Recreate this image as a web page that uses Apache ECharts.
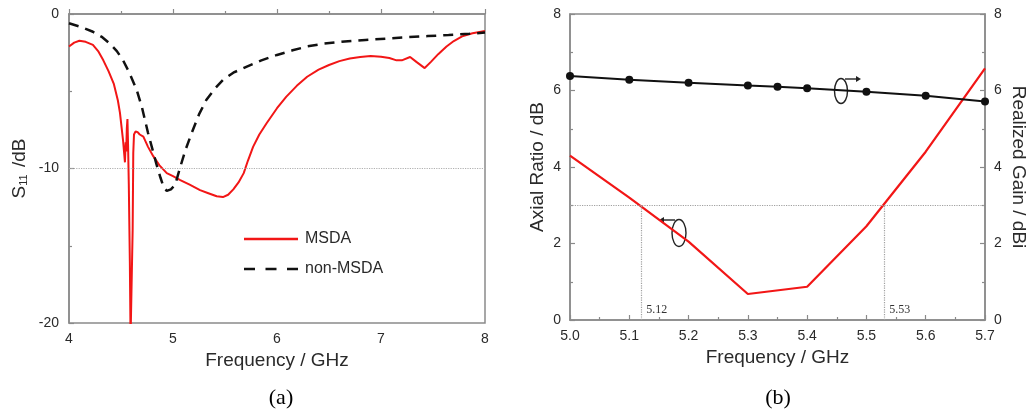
<!DOCTYPE html>
<html><head><meta charset="utf-8">
<script src="https://cdn.jsdelivr.net/npm/echarts@6/dist/echarts.min.js"></script>
<style>html,body{margin:0;padding:0;background:#fff}#c{width:1030px;height:415px}</style>
</head><body><div id="c"></div>
<script>
// ---- Panel (a): S11 ----
const msdaFreq = [4.00,4.05,4.10,4.16,4.23,4.28,4.33,4.38,4.43,4.47,4.49,4.52,4.538,4.545,4.55,4.556,4.562,4.568,4.575,4.585,4.592,4.605,4.612,4.618,4.625,4.64,4.66,4.68,4.715,4.76,4.81,4.87,4.94,5.00,5.07,5.16,5.26,5.34,5.42,5.48,5.53,5.58,5.63,5.68,5.72,5.77,5.83,5.90,6.00,6.09,6.19,6.29,6.40,6.50,6.60,6.70,6.80,6.90,7.00,7.08,7.15,7.20,7.28,7.34,7.42,7.48,7.55,7.63,7.70,7.78,7.88,8.00];
const msdaS11 = [-2.1,-1.85,-1.73,-1.8,-2.0,-2.4,-3.0,-3.7,-4.5,-5.6,-6.4,-8.2,-9.6,-8.3,-8.9,-7.4,-6.8,-8.5,-11,-16,-21,-21,-14,-9,-7.8,-7.6,-7.65,-7.8,-7.94,-8.6,-9.2,-9.8,-10.3,-10.5,-10.75,-11.05,-11.4,-11.6,-11.8,-11.85,-11.7,-11.35,-10.9,-10.3,-9.5,-8.6,-7.8,-7.07,-6.1,-5.35,-4.65,-4.06,-3.6,-3.3,-3.05,-2.88,-2.78,-2.72,-2.76,-2.85,-3.0,-3.0,-2.78,-3.1,-3.5,-3.1,-2.6,-2.1,-1.75,-1.45,-1.25,-1.1];
const nonFreq = [4.00,4.12,4.23,4.32,4.39,4.46,4.52,4.58,4.65,4.70,4.76,4.80,4.84,4.88,4.91,4.94,4.98,5.02,5.07,5.12,5.18,5.25,5.32,5.40,5.48,5.58,5.71,5.85,6.00,6.15,6.29,6.45,6.65,6.85,7.05,7.25,7.45,7.65,7.85,8.00];
const nonS11 = [-0.6,-0.85,-1.15,-1.5,-1.9,-2.4,-3.0,-3.8,-4.9,-6.0,-7.7,-8.7,-9.7,-10.6,-11.2,-11.45,-11.35,-11.07,-9.9,-8.8,-7.7,-6.5,-5.57,-4.85,-4.27,-3.8,-3.4,-3.0,-2.65,-2.35,-2.1,-1.92,-1.78,-1.68,-1.6,-1.5,-1.43,-1.36,-1.28,-1.2];
const s11Threshold = -10;

// ---- Panel (b): Axial ratio & gain ----
const arFreq = [5.0,5.1,5.2,5.3,5.4,5.5,5.6,5.7];
const arValues = [4.3,3.2,2.05,0.68,0.87,2.45,4.4,6.58];
const gainFreq = [5.0,5.1,5.2,5.3,5.35,5.4,5.5,5.6,5.7];
const gainValues = [6.38,6.28,6.2,6.13,6.1,6.06,5.97,5.86,5.71];
const arThreshold = 3;
const bandEdges = [5.12, 5.53];
const bandEdgeLabels = ['5.12', '5.53'];
const panelLabels = ['(a)', '(b)'];

const zip = (a, b) => a.map((v, i) => [v, b[i]]);
const AX = '#8a8a8a', TXT = '#2a2a2a', FONT = 'Liberation Sans';
const RED = '#f21616', BLK = '#111';
const tickLabel = {fontSize: 14, color: TXT, fontFamily: FONT};
const nameStyle = {fontSize: 19, color: TXT, fontFamily: FONT};
const axLine = {show: true, lineStyle: {color: AX, width: 1.5}};
const tick = {show: true, inside: true, length: 5, lineStyle: {color: AX, width: 1.2}};
const minor = {show: true, splitNumber: 2, length: 3, lineStyle: {color: AX, width: 1.2}};

const chart = echarts.init(document.getElementById('c'), null, {renderer: 'canvas'});
const option = {
  animation: false,
  backgroundColor: '#fff',
  grid: [
    {left: 69, top: 14, width: 416, height: 309, show: true, borderColor: AX, borderWidth: 1.5, containLabel: false},
    {left: 570, top: 14, width: 415, height: 306, show: true, borderColor: AX, borderWidth: 1.5, containLabel: false}
  ],
  legend: {
    data: [
      {name: 'MSDA', icon: 'path://M0,0H54V2.6H0Z'},
      {name: 'non-MSDA', icon: 'path://M0,0H11V2.6H0ZM21.5,0H32.5V2.6H21.5ZM43,0H54V2.6H43Z'}
    ],
    orient: 'vertical', left: 239, top: 225,
    itemWidth: 54, itemHeight: 2.6, itemGap: 12,
    textStyle: {fontSize: 16, color: TXT, fontFamily: FONT, padding: [0, 0, 0, 2], lineHeight: 18}
  },
  xAxis: [
    {gridIndex: 0, type: 'value', min: 4, max: 8, interval: 1,
     name: 'Frequency / GHz', nameLocation: 'middle', nameGap: 27, nameTextStyle: nameStyle,
     axisLine: axLine, axisTick: tick, minorTick: minor, splitLine: {show: false},
     axisLabel: Object.assign({margin: 9}, tickLabel)},
    {gridIndex: 1, type: 'value', min: 5.0, max: 5.7, interval: 0.1,
     name: 'Frequency / GHz', nameLocation: 'middle', nameGap: 27, nameTextStyle: nameStyle,
     axisLine: axLine, axisTick: tick, minorTick: minor, splitLine: {show: false},
     axisLabel: Object.assign({margin: 9, formatter: v => v.toFixed(1)}, tickLabel)}
  ],
  yAxis: [
    {gridIndex: 0, type: 'value', min: -20, max: 0, interval: 10,
     name: 'S{sub|11} /dB', nameLocation: 'middle', nameGap: 40,
     nameTextStyle: Object.assign({rich: {sub: {fontSize: 11, fontFamily: FONT, color: TXT, verticalAlign: 'bottom', padding: [8, 2, 0, 0]}}}, nameStyle),
     axisLine: axLine, axisTick: tick, minorTick: minor, splitLine: {show: false},
     axisLabel: Object.assign({margin: 10}, tickLabel)},
    {gridIndex: 1, type: 'value', min: 0, max: 8, interval: 2, position: 'left',
     name: 'Axial Ratio / dB', nameLocation: 'middle', nameGap: 23, nameTextStyle: nameStyle,
     axisLine: axLine, axisTick: tick, minorTick: minor, splitLine: {show: false},
     axisLabel: Object.assign({margin: 9}, tickLabel)},
    {gridIndex: 1, type: 'value', min: 0, max: 8, interval: 2, position: 'right',
     name: 'Realized Gain / dBi', nameLocation: 'middle', nameGap: 24, nameRotate: -90, nameTextStyle: nameStyle,
     axisLine: axLine, axisTick: tick, minorTick: minor, splitLine: {show: false},
     axisLabel: Object.assign({margin: 9}, tickLabel)}
  ],
  series: [
    {name: 'MSDA', type: 'line', xAxisIndex: 0, yAxisIndex: 0, data: zip(msdaFreq, msdaS11),
     symbol: 'none', clip: true, z: 3,
     lineStyle: {color: RED, width: 2}, itemStyle: {color: RED},
     markLine: {silent: true, symbol: ['none', 'none'], label: {show: false},
       lineStyle: {color: '#b0b0b0', type: 'dotted', width: 1.2}, data: [{yAxis: s11Threshold}]}},
    {name: 'non-MSDA', type: 'line', xAxisIndex: 0, yAxisIndex: 0, data: zip(nonFreq, nonS11),
     symbol: 'none', clip: true, z: 4,
     lineStyle: {color: BLK, width: 2.5, type: [10, 7]}, itemStyle: {color: BLK}},
    {name: 'Axial Ratio', type: 'line', xAxisIndex: 1, yAxisIndex: 1, data: zip(arFreq, arValues),
     symbol: 'none', z: 3, lineStyle: {color: RED, width: 2.2},
     markLine: {silent: true, symbol: ['none', 'none'], label: {show: false},
       lineStyle: {color: '#a0a0a0', type: 'dotted', width: 1.2},
       data: [{yAxis: arThreshold}].concat(bandEdges.map(f => [{coord: [f, 0]}, {coord: [f, arThreshold]}]))}},
    {name: 'Realized Gain', type: 'line', xAxisIndex: 1, yAxisIndex: 2, data: zip(gainFreq, gainValues),
     symbol: 'circle', symbolSize: 8, z: 4,
     lineStyle: {color: BLK, width: 2}, itemStyle: {color: BLK}}
  ]
};
chart.setOption(option);

// annotations: band-edge labels, rotation arrows, panel labels
const g = [];
bandEdges.forEach((f, i) => {
  const p = chart.convertToPixel({xAxisIndex: 1, yAxisIndex: 1}, [f, 0]);
  g.push({type: 'text', x: p[0] + 5, y: p[1] - 10, style: {text: bandEdgeLabels[i], fill: '#333', font: '12px "Liberation Serif"', textVerticalAlign: 'middle'}});
});
function rotArrow(cx, cy, rx, ry, dir) {
  const top = cy - ry;
  const sx = cx + (dir < 0 ? -4 : 4);
  const ex = sx + dir * 12;
  g.push({type: 'ellipse', shape: {cx, cy, rx, ry}, style: {fill: 'none', stroke: '#222', lineWidth: 1.4}});
  g.push({type: 'line', shape: {x1: sx, y1: top + 0.5, x2: ex, y2: top + 0.5}, style: {stroke: '#222', lineWidth: 1.4}});
  g.push({type: 'polygon', shape: {points: [[ex + dir * 4, top + 0.5], [ex - dir * 1, top - 2.5], [ex - dir * 1, top + 3.5]]}, style: {fill: '#222'}});
}
rotArrow(679, 233, 7, 13.5, -1);
rotArrow(841, 91, 6.5, 12.5, 1);
[281, 778].forEach((x, i) => g.push({type: 'text', x, y: 398, style: {text: panelLabels[i], fill: '#000', font: '22px "Liberation Serif"', textAlign: 'center', textVerticalAlign: 'middle'}}));
chart.setOption({graphic: g});
</script></body></html>
